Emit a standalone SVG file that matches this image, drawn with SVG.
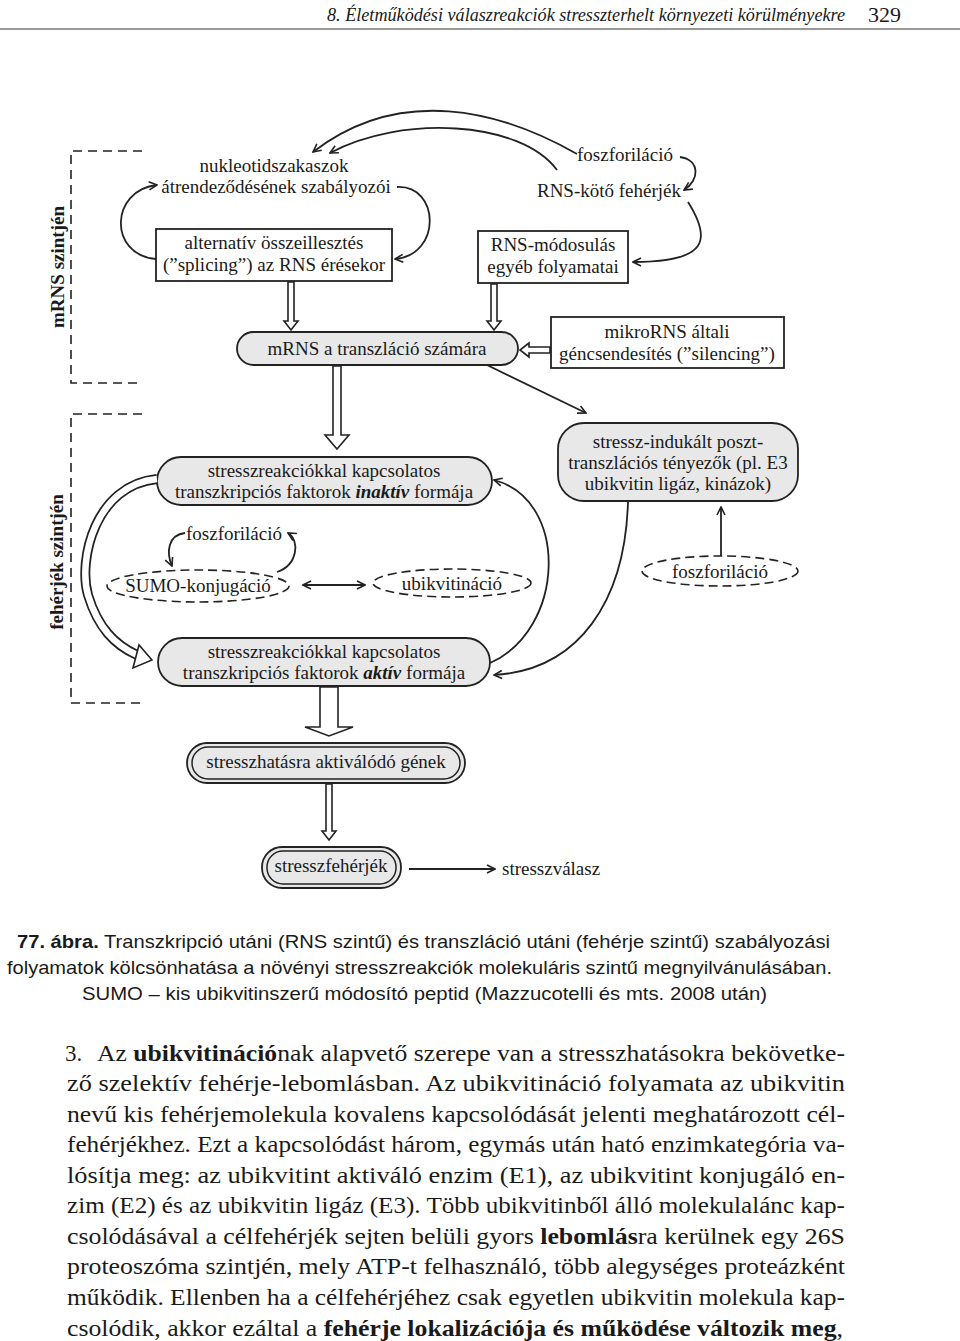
<svg xmlns="http://www.w3.org/2000/svg" width="960" height="1341" viewBox="0 0 960 1341">
<defs>
<style>
.t{font-family:"Liberation Serif","Times New Roman",serif;font-size:19px;fill:#1a1a1a}
.c{text-anchor:middle}
.box{fill:#fff;stroke:#222;stroke-width:1.8}
.pill{fill:#e8e8e8;stroke:#222;stroke-width:1.8}
.dash{fill:none;stroke:#222;stroke-width:1.6;stroke-dasharray:9,6}
.ell{fill:none;stroke:#222;stroke-width:1.6;stroke-dasharray:9,5}
.ln{fill:none;stroke:#222;stroke-width:1.8}
.hol{fill:#fff;stroke:#222;stroke-width:1.6;stroke-linejoin:miter}
.lab{font-family:"Liberation Serif","Times New Roman",serif;font-size:19px;font-weight:bold;fill:#1a1a1a;text-anchor:middle}
.cap{font-family:"Liberation Sans Narrow","Liberation Sans",Arial,sans-serif;font-size:18.5px;fill:#1a1a1a}
.p{font-family:"Liberation Serif","Times New Roman",serif;font-size:23px;fill:#1a1a1a}
</style>
<marker id="ah" viewBox="0 0 10 10" refX="9" refY="5" markerWidth="10" markerHeight="10" markerUnits="userSpaceOnUse" orient="auto-start-reverse">
<path d="M1,1 L9,5 L1,9" fill="none" stroke="#222" stroke-width="1.6"/>
</marker>
</defs>
<rect width="960" height="1341" fill="#fff"/>

<g id="header">
<text x="327" y="21" font-family="Liberation Serif,serif" font-style="italic" font-size="18" fill="#1a1a1a" textLength="518" lengthAdjust="spacingAndGlyphs">8. Életműködési válaszreakciók stresszterhelt környezeti körülményekre</text>
<text x="868" y="22" font-family="Liberation Serif,serif" font-size="22" fill="#1a1a1a">329</text>
<line x1="0" y1="29" x2="960" y2="29" stroke="#999" stroke-width="2"/>
</g>

<g id="bracket-mrns">
<path class="dash" d="M142,151 H71 V383 H142"/>
<text class="lab" transform="translate(64,267) rotate(-90)">mRNS szintjén</text>
</g>
<g id="bracket-feherje">
<path class="dash" d="M142,414 H71 V703 H142"/>
<text class="lab" transform="translate(63,562) rotate(-90)">fehérjék szintjén</text>
</g>

<g id="n-nukleotid">
<text class="t c" x="274" y="172">nukleotidszakaszok</text>
<text class="t c" x="276" y="193">átrendeződésének szabályozói</text>
</g>
<g id="n-alternativ">
<rect class="box" x="156" y="229" width="236" height="52"/>
<text class="t c" x="274" y="249">alternatív összeillesztés</text>
<text class="t c" x="274" y="271">(”splicing”) az RNS érésekor</text>
</g>
<g id="n-foszfor-top">
<text class="t c" x="625" y="161">foszforiláció</text>
</g>
<g id="n-rnskoto">
<text class="t c" x="609" y="197">RNS-kötő fehérjék</text>
</g>
<g id="n-rnsmod">
<rect class="box" x="478" y="231" width="150" height="52"/>
<text class="t c" x="553" y="251">RNS-módosulás</text>
<text class="t c" x="553" y="273">egyéb folyamatai</text>
</g>
<g id="n-mrns">
<rect class="pill" x="237" y="332" width="281" height="33" rx="16.5"/>
<text class="t c" x="377" y="355">mRNS a transzláció számára</text>
</g>
<g id="n-mikrorns">
<rect class="box" x="551" y="317" width="233" height="51"/>
<text class="t c" x="667" y="338">mikroRNS általi</text>
<text class="t c" x="667" y="360">géncsendesítés (”silencing”)</text>
</g>
<g id="n-inaktiv">
<rect class="pill" x="157" y="457" width="335" height="48" rx="24"/>
<text class="t c" x="324" y="477">stresszreakciókkal kapcsolatos</text>
<text class="t c" x="324" y="498">transzkripciós faktorok <tspan font-weight="bold" font-style="italic">inaktív</tspan> formája</text>
</g>
<g id="n-stresszindukalt">
<rect class="pill" x="558" y="423" width="240" height="78" rx="26"/>
<text class="t c" x="678" y="448">stressz-indukált poszt-</text>
<text class="t c" x="678" y="469">transzlációs tényezők (pl. E3</text>
<text class="t c" x="678" y="490">ubikvitin ligáz, kinázok)</text>
</g>
<g id="n-foszfor-left">
<text class="t c" x="234" y="540">foszforiláció</text>
</g>
<g id="n-sumo">
<ellipse class="ell" cx="198" cy="586" rx="91" ry="16"/>
<text class="t c" x="198" y="592">SUMO-konjugáció</text>
</g>
<g id="n-ubikvitinacio">
<ellipse class="ell" cx="452" cy="583" rx="79" ry="14"/>
<text class="t c" x="452" y="590">ubikvitináció</text>
</g>
<g id="n-foszfor-right">
<ellipse class="ell" cx="720" cy="571" rx="78" ry="15"/>
<text class="t c" x="720" y="578">foszforiláció</text>
</g>
<g id="n-aktiv">
<rect class="pill" x="158" y="638" width="332" height="48" rx="24"/>
<text class="t c" x="324" y="658">stresszreakciókkal kapcsolatos</text>
<text class="t c" x="324" y="679">transzkripciós faktorok <tspan font-weight="bold" font-style="italic">aktív</tspan> formája</text>
</g>
<g id="n-genek">
<rect class="pill" x="187" y="743" width="278" height="40" rx="20"/>
<rect x="192" y="747" width="268" height="32" rx="16" fill="none" stroke="#222" stroke-width="1.5"/>
<text class="t c" x="326" y="768">stresszhatásra aktiválódó gének</text>
</g>
<g id="n-stresszfeherjek">
<rect class="pill" x="262" y="847" width="139" height="41" rx="20"/>
<rect x="267" y="851" width="129" height="33" rx="16" fill="none" stroke="#222" stroke-width="1.5"/>
<text class="t c" x="331" y="872">stresszfehérjék</text>
</g>
<g id="n-stresszvalasz">
<text class="t" x="502" y="875">stresszválasz</text>
</g>

<g id="connectors">
<path class="ln" marker-end="url(#ah)" d="M577,154 C500,110 400,85 313,152"/>
<path class="ln" marker-end="url(#ah)" d="M557,170 C520,120 400,115 330,153"/>
<path class="ln" marker-end="url(#ah)" d="M156,259 C108,255 110,190 157,185"/>
<path class="ln" marker-end="url(#ah)" d="M397,187 C440,185 442,255 395,259"/>
<path class="ln" marker-end="url(#ah)" d="M680,157 C700,160 700,180 684,190"/>
<path class="ln" marker-end="url(#ah)" d="M688,202 C712,240 708,262 633,262"/>
<polygon class="hol" points="288,282 294,282 294,321 298,321 291,330 284,321 288,321"/>
<polygon class="hol" points="491,284 497,284 497,321 501,321 494,330 487,321 491,321"/>
<polygon class="hol" points="550,347 529,347 529,343 520,350 529,357 529,353 550,353"/>
<path class="ln" marker-end="url(#ah)" d="M487,365 L586,413"/>
<polygon class="hol" points="333,366 341,366 341,435 349,435 337,449 325,435 333,435"/>
<path d="M157,479 C95,485 78,560 88,595 C98,628 115,645 137,655" fill="none" stroke="#222" stroke-width="10"/>
<path d="M157,479 C95,485 78,560 88,595 C98,628 115,645 137,655" fill="none" stroke="#fff" stroke-width="6.5"/>
<polygon class="hol" points="152,660 139,645 133,668"/>
<path class="ln" marker-end="url(#ah)" d="M185,533 C168,535 166,552 172,566"/>
<path class="ln" marker-end="url(#ah)" d="M277,572 C298,565 300,540 288,533"/>
<path class="ln" marker-start="url(#ah)" marker-end="url(#ah)" d="M303,585 L365,585"/>
<path class="ln" marker-end="url(#ah)" d="M490,663 C565,630 570,500 494,480"/>
<path class="ln" marker-end="url(#ah)" d="M628,502 C625,600 580,670 494,675"/>
<path class="ln" marker-end="url(#ah)" d="M721,556 L721,507"/>
<polygon class="hol" points="320,687 338,687 338,727 353,727 329,736 305,727 320,727"/>
<polygon class="hol" points="326,784 332,784 332,831 336,831 329,840 322,831 326,831"/>
<path class="ln" marker-end="url(#ah)" d="M409,869 L495,869"/>
</g>

<g id="caption">
<text class="cap" x="17" y="948" textLength="813" lengthAdjust="spacingAndGlyphs"><tspan font-weight="bold">77. ábra.</tspan> Transzkripció utáni (RNS szintű) és transzláció utáni (fehérje szintű) szabályozási</text>
<text class="cap" x="7" y="974" textLength="825" lengthAdjust="spacingAndGlyphs">folyamatok kölcsönhatása a növényi stresszreakciók molekuláris szintű megnyilvánulásában.</text>
<text class="cap" x="82" y="1000" textLength="685" lengthAdjust="spacingAndGlyphs">SUMO – kis ubikvitinszerű módosító peptid (Mazzucotelli és mts. 2008 után)</text>
</g>

<g id="paragraph">
<text class="p" x="65" y="1061">3.</text>
<text class="p" x="97" y="1061" textLength="748" lengthAdjust="spacingAndGlyphs">Az <tspan font-weight="bold">ubikvitináció</tspan>nak alapvető szerepe van a stresszhatásokra bekövetke-</text>
<text class="p" x="67" y="1091" textLength="778" lengthAdjust="spacingAndGlyphs">ző szelektív fehérje-lebomlásban. Az ubikvitináció folyamata az ubikvitin</text>
<text class="p" x="67" y="1122" textLength="778" lengthAdjust="spacingAndGlyphs">nevű kis fehérjemolekula kovalens kapcsolódását jelenti meghatározott cél-</text>
<text class="p" x="67" y="1152" textLength="778" lengthAdjust="spacingAndGlyphs">fehérjékhez. Ezt a kapcsolódást három, egymás után ható enzimkategória va-</text>
<text class="p" x="67" y="1183" textLength="778" lengthAdjust="spacingAndGlyphs">lósítja meg: az ubikvitint aktiváló enzim (E1), az ubikvitint konjugáló en-</text>
<text class="p" x="67" y="1213" textLength="778" lengthAdjust="spacingAndGlyphs">zim (E2) és az ubikvitin ligáz (E3). Több ubikvitinből álló molekulalánc kap-</text>
<text class="p" x="67" y="1244" textLength="778" lengthAdjust="spacingAndGlyphs">csolódásával a célfehérjék sejten belüli gyors <tspan font-weight="bold">lebomlás</tspan>ra kerülnek egy 26S</text>
<text class="p" x="67" y="1274" textLength="778" lengthAdjust="spacingAndGlyphs">proteoszóma szintjén, mely ATP-t felhasználó, több alegységes proteázként</text>
<text class="p" x="67" y="1305" textLength="778" lengthAdjust="spacingAndGlyphs">működik. Ellenben ha a célfehérjéhez csak egyetlen ubikvitin molekula kap-</text>
<text class="p" x="67" y="1336" textLength="776" lengthAdjust="spacingAndGlyphs">csolódik, akkor ezáltal a <tspan font-weight="bold">fehérje lokalizációja és működése változik meg</tspan>,</text>
</g>
</svg>
